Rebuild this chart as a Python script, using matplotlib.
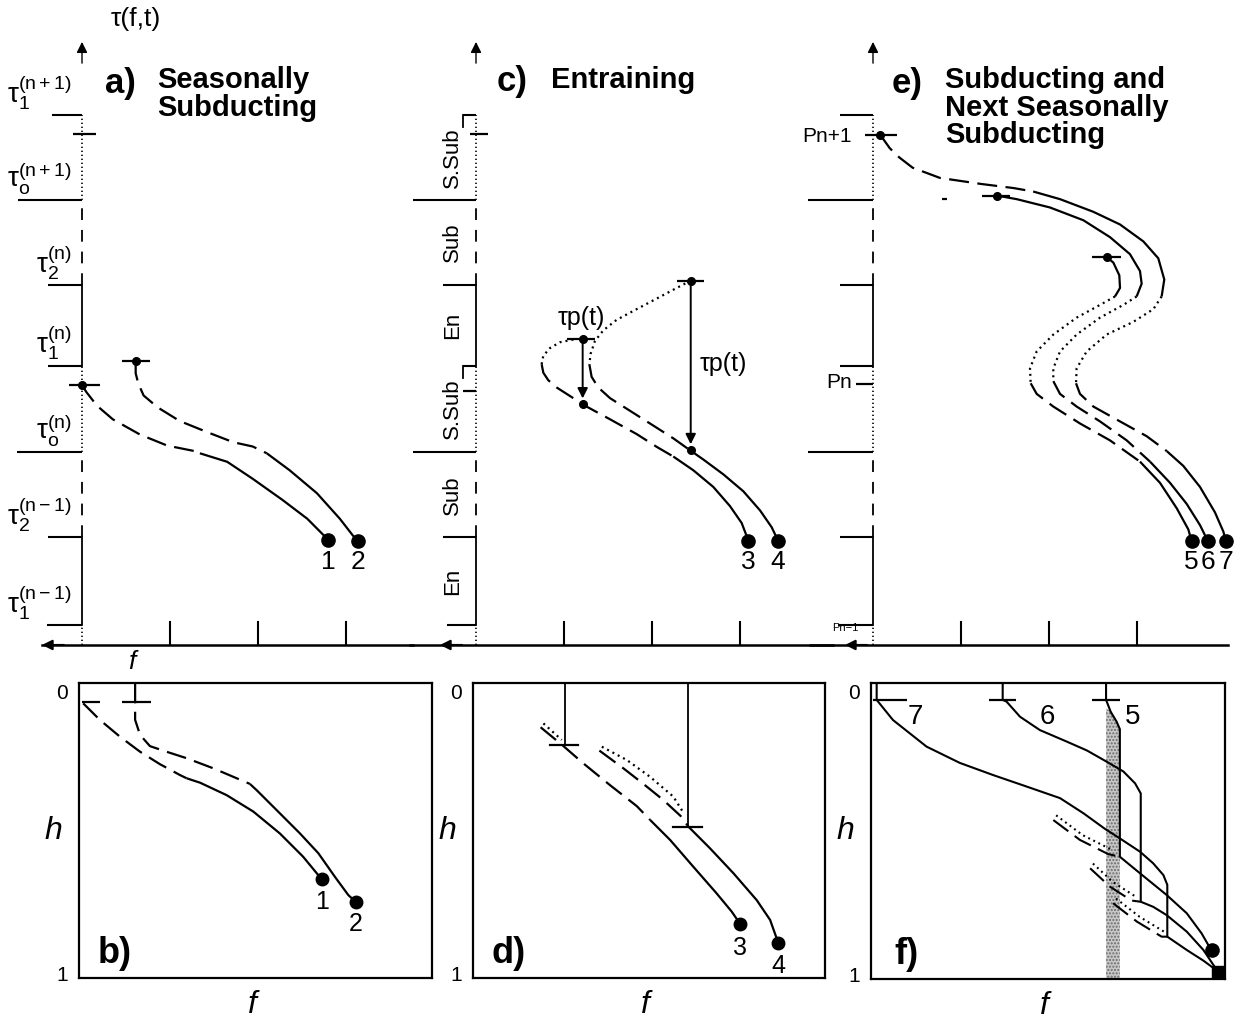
import numpy as np
import matplotlib
matplotlib.use('Agg')
import matplotlib.pyplot as plt
from matplotlib.patches import Polygon

plt.rcParams['font.family'] = ['Liberation Sans', 'DejaVu Sans']
plt.rcParams['mathtext.fontset'] = 'custom'
plt.rcParams['mathtext.rm'] = 'Liberation Sans'
plt.rcParams['mathtext.it'] = 'Liberation Sans:italic'
plt.rcParams['mathtext.bf'] = 'Liberation Sans:bold'

# ---------------- data (top panels: f in tick units, tau in tick units) -------------
TICK_TAU = [0.0, 1.03, 2.03, 3.05, 4.0, 5.0, 6.0]
AXIS_STYLES = [':', '-', '--', ':', '-', '--', ':']
F_TICKS = [1, 2, 3]
TAU_LABELS = [r'$\mathrm{\tau_1^{(n-1)}}$', r'$\mathrm{\tau_2^{(n-1)}}$', r'$\mathrm{\tau_o^{(n)}}$',
              r'$\mathrm{\tau_1^{(n)}}$', r'$\mathrm{\tau_2^{(n)}}$', r'$\mathrm{\tau_o^{(n+1)}}$',
              r'$\mathrm{\tau_1^{(n+1)}}$']
PERIOD_LABELS = ['En', 'Sub', 'S.Sub', 'En', 'Sub', 'S.Sub']
TICK_LEN_A = [-0.40, -0.39, -0.74, -0.39, -0.39, -0.73, -0.34]
TICK_LEN_C = [-0.33, -0.37, -0.72, -0.15, -0.37, -0.72, -0.15]
TICK_LEN_E = [-0.40, -0.37, -0.74, -0.37, -0.37, -0.74, -0.37]

# panel a
a1_dash_f = [0.0, 0.05, 0.17, 0.35, 0.66, 0.97, 1.26, 1.34]
a1_dash_t = [2.82, 2.74, 2.58, 2.42, 2.24, 2.11, 2.05, 2.02]
a1_sol_f = [1.34, 1.65, 1.94, 2.28, 2.56, 2.80]
a1_sol_t = [2.02, 1.92, 1.72, 1.47, 1.25, 1.00]
a2_dash_f = [0.61, 0.61, 0.64, 0.70, 0.86, 1.11, 1.42, 1.72, 1.94, 2.10]
a2_dash_t = [3.11, 2.96, 2.84, 2.70, 2.56, 2.40, 2.27, 2.15, 2.10, 2.02]
a2_sol_f = [2.10, 2.36, 2.67, 2.93, 3.08, 3.14]
a2_sol_t = [2.02, 1.82, 1.55, 1.25, 1.05, 0.99]
a_bars = [(-0.15, 0.20, 2.82), (0.45, 0.77, 3.11), (-0.10, 0.16, 5.78)]
a_start_dots = [(0.0, 2.82), (0.61, 3.11)]

# panel c
c3_dot_f = [1.106, 0.955, 0.841, 0.765, 0.746]
c3_dot_t = [3.358, 3.327, 3.258, 3.168, 3.068]
c3_dash_f = [0.746, 0.765, 0.822, 0.917, 1.068, 1.258, 1.523, 1.826, 2.053, 2.242]
c3_dash_t = [3.068, 2.968, 2.879, 2.794, 2.694, 2.569, 2.420, 2.246, 2.096, 1.982]
c3_sol_f = [2.242, 2.47, 2.697, 2.886, 3.019, 3.083, 3.09]
c3_sol_t = [1.982, 1.82, 1.624, 1.399, 1.20, 1.026, 0.986]
c4_dot_f = [2.439, 2.28, 2.053, 1.826, 1.598, 1.447, 1.352, 1.303, 1.288]
c4_dot_t = [4.05, 3.965, 3.84, 3.716, 3.59, 3.467, 3.342, 3.193, 3.068]
c4_dash_f = [1.288, 1.314, 1.39, 1.523, 1.75, 2.015, 2.242, 2.432]
c4_dash_t = [3.068, 2.919, 2.794, 2.669, 2.52, 2.346, 2.196, 2.056]
c4_sol_f = [2.432, 2.583, 2.81, 3.038, 3.227, 3.36, 3.417, 3.428]
c4_sol_t = [2.056, 1.947, 1.773, 1.573, 1.349, 1.15, 1.026, 0.986]
c_bars = [(1.03, 1.35, 3.367), (2.28, 2.59, 4.05), (-0.07, 0.14, 5.78), (-0.15, 0.0, 2.75)]
c_arrows = [(1.212, 3.367, 2.595), (2.44, 4.05, 2.056)]

# panel e
e7_dash1_f = [0.08, 0.19, 0.30, 0.45, 0.76, 1.22, 1.60, 1.82]
e7_dash1_t = [5.77, 5.61, 5.50, 5.38, 5.26, 5.19, 5.14, 5.10]
e7_sol1_f = [1.82, 2.125, 2.504, 2.807, 3.072, 3.242, 3.31, 3.28]
e7_sol1_t = [5.10, 5.01, 4.861, 4.712, 4.513, 4.314, 4.065, 3.865]
e7_dot_f = [3.28, 3.186, 2.958, 2.655, 2.428, 2.314, 2.307]
e7_dot_t = [3.865, 3.716, 3.566, 3.417, 3.218, 3.019, 2.844]
e7_dash2_f = [2.307, 2.352, 2.504, 2.807, 3.11, 3.337]
e7_dash2_t = [2.844, 2.719, 2.57, 2.395, 2.221, 2.047]
e7_sol2_f = [3.337, 3.526, 3.716, 3.886, 3.981, 4.011]
e7_sol2_t = [2.047, 1.872, 1.624, 1.325, 1.10, 0.986]

e6_sol1_f = [1.413, 1.633, 2.011, 2.39, 2.693, 2.92, 3.034, 3.053, 2.996]
e6_sol1_t = [5.051, 5.01, 4.912, 4.762, 4.563, 4.363, 4.164, 4.015, 3.865]
e6_dot_f = [2.996, 2.845, 2.58, 2.314, 2.125, 2.049, 2.049]
e6_dot_t = [3.865, 3.766, 3.616, 3.417, 3.218, 3.019, 2.869]
e6_dash_f = [2.049, 2.125, 2.314, 2.58, 2.883, 3.148]
e6_dash_t = [2.869, 2.719, 2.57, 2.395, 2.172, 1.922]
e6_sol2_f = [3.148, 3.375, 3.565, 3.716, 3.799, 3.81]
e6_sol2_t = [1.922, 1.673, 1.424, 1.175, 1.0, 0.986]

e5_sol1_f = [2.655, 2.731, 2.799, 2.807, 2.75]
e5_sol1_t = [4.329, 4.264, 4.114, 3.965, 3.865]
e5_dot_f = [2.75, 2.58, 2.314, 2.049, 1.86, 1.784, 1.792]
e5_dot_t = [3.865, 3.766, 3.616, 3.417, 3.218, 3.019, 2.844]
e5_dash_f = [1.792, 1.86, 2.049, 2.352, 2.693, 3.034]
e5_dash_t = [2.844, 2.719, 2.57, 2.371, 2.172, 1.922]
e5_sol2_f = [3.034, 3.261, 3.451, 3.583, 3.621]
e5_sol2_t = [1.922, 1.673, 1.374, 1.125, 0.986]
e_bars = [(-0.09, 0.27, 5.77), (1.235, 1.557, 5.051), (2.485, 2.815, 4.329), (0.78, 0.84, 5.01),
          (-0.19, 0.0, 2.84)]
e_start_dots = [(0.08, 5.77), (1.413, 5.051), (2.655, 4.329)]

# ---------------- data (bottom panels: f and h in 0..1) -------------
b1_dash_f = [0.012, 0.059, 0.116, 0.173, 0.229, 0.286, 0.305]
b1_dash_h = [0.069, 0.125, 0.182, 0.233, 0.275, 0.312, 0.323]
b1_sol_f = [0.305, 0.343, 0.418, 0.494, 0.569, 0.635, 0.688]
b1_sol_h = [0.323, 0.338, 0.380, 0.436, 0.510, 0.589, 0.666]
b2_dash_f = [0.159, 0.159, 0.173, 0.201, 0.248, 0.305, 0.380, 0.437, 0.484]
b2_dash_h = [0.001, 0.125, 0.176, 0.214, 0.233, 0.255, 0.289, 0.318, 0.342]
b2_sol_f = [0.484, 0.503, 0.560, 0.626, 0.678, 0.725, 0.763, 0.785]
b2_sol_h = [0.342, 0.363, 0.431, 0.510, 0.577, 0.657, 0.719, 0.743]
b_bars = [(0.008, 0.059, 0.063), (0.121, 0.203, 0.063)]

d_vert = [(0.261, 0.21, 0.219, 0.299), (0.612, 0.487, 0.569, 0.650)]
d3_dash_f = [0.192, 0.257, 0.313, 0.389, 0.465, 0.503]
d3_dash_h = [0.150, 0.214, 0.272, 0.346, 0.417, 0.464]
d3_sol_f = [0.503, 0.560, 0.626, 0.692, 0.735, 0.759]
d3_sol_h = [0.464, 0.532, 0.623, 0.713, 0.775, 0.817]
d3_dot_f = [0.200, 0.252]
d3_dot_h = [0.137, 0.193]
d4_dot_f = [0.366, 0.437, 0.503, 0.569, 0.599]
d4_dot_h = [0.216, 0.261, 0.318, 0.385, 0.442]
d4_dash_f = [0.359, 0.427, 0.484, 0.541, 0.590, 0.612]
d4_dash_h = [0.229, 0.289, 0.342, 0.397, 0.451, 0.487]
d4_sol_f = [0.612, 0.673, 0.740, 0.806, 0.844, 0.867]
d4_sol_h = [0.487, 0.560, 0.645, 0.736, 0.803, 0.880]

f7_f = [0.016, 0.016, 0.062, 0.157, 0.251, 0.345, 0.44, 0.534, 0.60, 0.66, 0.703, 0.760, 0.797, 0.826,
        0.837, 0.837, 0.892, 0.939, 0.981]
f7_h = [0.0, 0.057, 0.125, 0.215, 0.270, 0.311, 0.350, 0.389, 0.440, 0.492, 0.525, 0.570, 0.609, 0.649,
        0.682, 0.857, 0.902, 0.938, 0.975]
f6_f = [0.372, 0.372, 0.383, 0.421, 0.477, 0.553, 0.610, 0.666, 0.713, 0.746, 0.762, 0.762, 0.797, 0.835,
        0.892, 0.939, 0.977, 0.981]
f6_h = [0.0, 0.057, 0.063, 0.114, 0.159, 0.198, 0.228, 0.266, 0.299, 0.339, 0.373, 0.739, 0.756, 0.784,
        0.840, 0.902, 0.970, 0.975]
f5_f = [0.664, 0.664, 0.666, 0.677, 0.694, 0.703, 0.703, 0.760, 0.835, 0.892, 0.934, 0.958, 0.962]
f5_h = [0.0, 0.057, 0.063, 0.097, 0.131, 0.156, 0.587, 0.643, 0.716, 0.778, 0.846, 0.896, 0.902]
f_bars = [(0.006, 0.102, 0.057), (0.332, 0.411, 0.057), (0.623, 0.703, 0.057)]
fA_f = [0.515, 0.590, 0.670, 0.703]
fA_h = [0.463, 0.530, 0.578, 0.587]
fB_f = [0.619, 0.675, 0.736, 0.762]
fB_h = [0.626, 0.688, 0.735, 0.739]
fC_f = [0.684, 0.751, 0.821, 0.837]
fC_h = [0.744, 0.806, 0.857, 0.857]
band_left = 0.664

# ---------------- layout helpers -------------
W, H = 1240, 1021
FX, TY, OY = 88.0, 85.0, 625.0
AX_BOT, AX_TOP = -0.235, 6.86
LW = 1.6
STY = {'-': '-', '--': (0, (9, 3.8)), ':': (0, (0.9, 1.8))}
VSTY = {'-': '-', '--': (0, (6.5, 5.5)), ':': (0, (0.8, 1.6))}

fig = plt.figure(figsize=(W / 100, H / 100), dpi=100)


def px_axes(left, top, right, bottom):
    return fig.add_axes([left / W, 1 - bottom / H, (right - left) / W, (bottom - top) / H])


def ptext(x, y, s, **kw):
    fig.text(x / W, 1 - y / H, s, **kw)


def line(ax, f, t, s, lw=LW):
    ax.plot(f, t, color='k', lw=lw, linestyle=STY[s], solid_joinstyle='round',
            solid_capstyle='butt', dash_capstyle='butt', clip_on=False)


def top_panel(left, right, ox, ticklen, hx0):
    ax = px_axes(left, 0, right, 680)
    ax.set_xlim((left - ox) / FX, (right - ox) / FX)
    ax.set_ylim((OY - 680) / TY, OY / TY)
    ax.axis('off')
    bounds = [AX_BOT] + TICK_TAU + [AX_TOP - 0.15]
    for k, s in enumerate(AXIS_STYLES):
        ax.plot([0, 0], [bounds[k], bounds[k + 1]], color='k', lw=1.3 if s != ':' else 1.2,
                linestyle=VSTY[s], dash_capstyle='butt', clip_on=False)
    ax.annotate('', xy=(0, AX_TOP), xytext=(0, AX_TOP - 0.25),
                arrowprops=dict(arrowstyle='-|>', color='k', lw=1.0, mutation_scale=16,
                                shrinkA=0, shrinkB=0))
    for t, L in zip(TICK_TAU, ticklen):
        ax.plot([L, 0], [t, t], color='k', lw=1.5, solid_capstyle='butt')
    xr = (right - 12 - ox) / FX
    ax.plot([hx0, xr], [AX_BOT, AX_BOT], color='k', lw=1.8)
    for f in F_TICKS:
        ax.plot([f, f], [AX_BOT, AX_BOT + 0.27], color='k', lw=1.5)
    return ax


def arrow_left(ax, tip):
    ax.annotate('', xy=(tip, AX_BOT), xytext=(tip + 0.25, AX_BOT),
                arrowprops=dict(arrowstyle='-|>', color='k', lw=1.5, mutation_scale=15,
                                shrinkA=0, shrinkB=0))


def bars(ax, blist, lw=1.6):
    for f0, f1, t in blist:
        ax.plot([f0, f1], [t, t], color='k', lw=lw, solid_capstyle='butt', clip_on=False)


# ---------------- panel a -------------
axa = top_panel(0, 425, 82, TICK_LEN_A, (42 - 82) / FX)
arrow_left(axa, (42 - 82) / FX)
for t, lab in zip(TICK_TAU, TAU_LABELS):
    axa.text(-0.12, t + 0.04, lab, ha='right', va='bottom', fontsize=20)
line(axa, a1_dash_f, a1_dash_t, '--')
line(axa, a1_sol_f, a1_sol_t, '-')
line(axa, a2_dash_f, a2_dash_t, '--')
line(axa, a2_sol_f, a2_sol_t, '-')
bars(axa, a_bars)
for f, t in a_start_dots:
    axa.plot(f, t, 'o', color='k', ms=5.5, clip_on=False)
for f, t, lab in [(a1_sol_f[-1], a1_sol_t[-1], '1'), (a2_sol_f[-1], a2_sol_t[-1], '2')]:
    axa.plot(f, t, 'o', color='k', ms=9.5, clip_on=False)
    axa.text(f, 0.74, lab, ha='center', va='center', fontsize=19)

# ---------------- panel c -------------
axc = top_panel(405, 845, 476, TICK_LEN_C, (410 - 476) / FX)
arrow_left(axc, (440 - 476) / FX)
for k, lab in enumerate(PERIOD_LABELS):
    axc.text(-0.27, (TICK_TAU[k] + TICK_TAU[k + 1]) / 2, lab, rotation=90, ha='center',
             va='center', fontsize=16)
for t in [TICK_TAU[3], TICK_TAU[6]]:
    axc.plot([-0.15, -0.15], [t, t - 0.14], color='k', lw=1.3)
line(axc, c3_dot_f, c3_dot_t, ':')
line(axc, c3_dash_f, c3_dash_t, '--')
line(axc, c3_sol_f, c3_sol_t, '-')
line(axc, c4_dot_f, c4_dot_t, ':')
line(axc, c4_dash_f, c4_dash_t, '--')
line(axc, c4_sol_f, c4_sol_t, '-')
bars(axc, c_bars)
for f, t0, t1 in c_arrows:
    axc.annotate('', xy=(f, t1 + 0.07), xytext=(f, t0),
                 arrowprops=dict(arrowstyle='-|>', color='k', lw=1.4, mutation_scale=15,
                                 shrinkA=0, shrinkB=0))
    axc.plot([f, f], [t0, t1], 'o', color='k', ms=5.5, clip_on=False)
axc.text(1.20, 3.61, 'τp(t)', ha='center', va='center', fontsize=18)
axc.text(2.81, 3.07, 'τp(t)', ha='center', va='center', fontsize=18)
for f, t, lab in [(c3_sol_f[-1], c3_sol_t[-1], '3'), (c4_sol_f[-1], c4_sol_t[-1], '4')]:
    axc.plot(f, t, 'o', color='k', ms=9.5, clip_on=False)
    axc.text(f, 0.74, lab, ha='center', va='center', fontsize=19)

# ---------------- panel e -------------
axe = top_panel(800, 1240, 873, TICK_LEN_E, (810 - 873) / FX)
arrow_left(axe, (845 - 873) / FX)
axe.text(-0.52, 5.75, 'Pn+1', ha='center', va='center', fontsize=15)
axe.text(-0.39, 2.85, 'Pn', ha='center', va='center', fontsize=15)
axe.text(-0.32, -0.04, 'Pn−1', ha='center', va='center', fontsize=8)
for seg in [(e7_dash1_f, e7_dash1_t, '--'), (e7_sol1_f, e7_sol1_t, '-'), (e7_dot_f, e7_dot_t, ':'),
            (e7_dash2_f, e7_dash2_t, '--'), (e7_sol2_f, e7_sol2_t, '-'),
            (e6_sol1_f, e6_sol1_t, '-'), (e6_dot_f, e6_dot_t, ':'), (e6_dash_f, e6_dash_t, '--'),
            (e6_sol2_f, e6_sol2_t, '-'),
            (e5_sol1_f, e5_sol1_t, '-'), (e5_dot_f, e5_dot_t, ':'), (e5_dash_f, e5_dash_t, '--'),
            (e5_sol2_f, e5_sol2_t, '-')]:
    line(axe, *seg)
bars(axe, e_bars)
for f, t in e_start_dots:
    axe.plot(f, t, 'o', color='k', ms=5.5, clip_on=False)
for f, t, lab in [(e5_sol2_f[-1], e5_sol2_t[-1], '5'), (e6_sol2_f[-1], e6_sol2_t[-1], '6'),
                  (e7_sol2_f[-1], e7_sol2_t[-1], '7')]:
    axe.plot(f, t, 'o', color='k', ms=9.5, clip_on=False)
    axe.text(f, 0.74, lab, ha='center', va='center', fontsize=19)

# ---------------- titles -------------
ptext(136, 19, 'τ(f,t)', ha='center', va='center', fontsize=19)
ptext(120, 84, 'a)', ha='center', va='center', fontsize=25, fontweight='bold')
ptext(157, 66, 'Seasonally\nSubducting', ha='left', va='top', fontsize=21, fontweight='bold',
      linespacing=0.98)
ptext(512, 82, 'c)', ha='center', va='center', fontsize=25, fontweight='bold')
ptext(551, 66, 'Entraining', ha='left', va='top', fontsize=21, fontweight='bold')
ptext(907, 84, 'e)', ha='center', va='center', fontsize=25, fontweight='bold')
ptext(945, 66, 'Subducting and\nNext Seasonally\nSubducting', ha='left', va='top', fontsize=21,
      fontweight='bold', linespacing=0.98)
ptext(132, 662, 'f', ha='center', va='center', fontsize=19, style='italic')


# ---------------- bottom panels -------------
def box_panel(left, top, right, bottom, tag):
    ax = px_axes(left, top, right, bottom)
    ax.set_xlim(0, 1)
    ax.set_ylim(1, 0)
    ax.set_xticks([])
    ax.set_yticks([])
    for s in ax.spines.values():
        s.set_linewidth(1.6)
    ax.text(-0.048, 0.035, '0', ha='center', va='center', fontsize=15)
    ax.text(-0.048, 0.99, '1', ha='center', va='center', fontsize=15)
    ax.text(-0.072, 0.50, 'h', ha='center', va='center', fontsize=23, style='italic')
    ax.text(0.49, 1.09, 'f', ha='center', va='center', fontsize=23, style='italic')
    ax.text(0.10, 0.917, tag, ha='center', va='center', fontsize=26, fontweight='bold')
    return ax


axb = box_panel(79, 683, 432, 978, 'b)')
line(axb, b1_dash_f, b1_dash_h, '--')
line(axb, b1_sol_f, b1_sol_h, '-')
line(axb, b2_dash_f, b2_dash_h, '--')
line(axb, b2_sol_f, b2_sol_h, '-')
bars(axb, b_bars)
for f, h, lab in [(b1_sol_f[-1], b1_sol_h[-1], '1'), (b2_sol_f[-1], b2_sol_h[-1], '2')]:
    axb.plot(f, h, 'o', color='k', ms=9, clip_on=False)
    axb.text(f, h + 0.075, lab, ha='center', va='center', fontsize=18)

axd = box_panel(473, 683, 825, 978, 'd)')
for fv, hv, b0, b1 in d_vert:
    axd.plot([fv, fv], [0, hv], color='k', lw=1.3)
    axd.plot([b0, b1], [hv, hv], color='k', lw=1.6)
line(axd, d3_dash_f, d3_dash_h, '--')
line(axd, d3_sol_f, d3_sol_h, '-')
line(axd, d3_dot_f, d3_dot_h, ':')
line(axd, d4_dot_f, d4_dot_h, ':')
line(axd, d4_dash_f, d4_dash_h, '--')
line(axd, d4_sol_f, d4_sol_h, '-')
for f, h, lab in [(d3_sol_f[-1], d3_sol_h[-1], '3'), (d4_sol_f[-1], d4_sol_h[-1], '4')]:
    axd.plot(f, h, 'o', color='k', ms=9, clip_on=False)
    axd.text(f, h + 0.08, lab, ha='center', va='center', fontsize=18)

axf = box_panel(871, 683, 1225, 979, 'f)')
band = [(band_left, 0.085)] + [(f, h) for f, h in zip(f5_f[3:6], f5_h[3:6])] + \
       [(f5_f[5], 1.0), (band_left, 1.0)]
axf.add_patch(Polygon(band, closed=True, facecolor='#c8c8c8', edgecolor='#6a6a6a', lw=0,
                      hatch='.....', zorder=1))
for ff, hh in [(f7_f, f7_h), (f6_f, f6_h), (f5_f, f5_h)]:
    line(axf, ff, hh, '-', lw=1.5)
bars(axf, f_bars)
for pf, ph in [(fA_f, fA_h), (fB_f, fB_h), (fC_f, fC_h)]:
    line(axf, pf, ph, '--', lw=1.5)
    line(axf, [x + 0.008 for x in pf[:-1]], [y - 0.016 for y in ph[:-1]], ':', lw=1.5)
axf.plot(f5_f[-1], f5_h[-1], 'o', color='k', ms=9.5, clip_on=False)
axf.plot(f7_f[-1], f7_h[-1], 's', color='k', ms=9, clip_on=False)
for f, lab in [(0.124, '7'), (0.497, '6'), (0.74, '5')]:
    axf.text(f, 0.115, lab, ha='center', va='center', fontsize=20)

fig.savefig('out.png', dpi=100)
